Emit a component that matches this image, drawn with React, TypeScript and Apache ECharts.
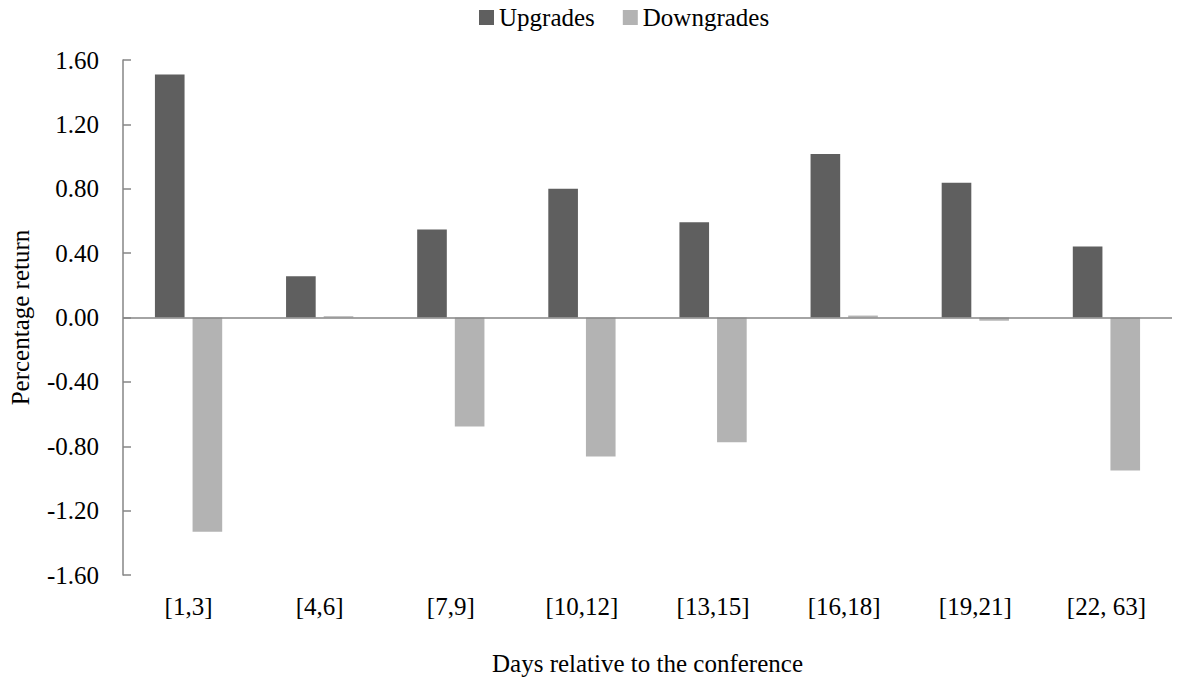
import React, { useEffect, useRef } from "react";
import * as echarts from "echarts";

const categories = ["[1,3]", "[4,6]", "[7,9]", "[10,12]", "[13,15]", "[16,18]", "[19,21]", "[22, 63]"];
const upgrades = [1.51, 0.257, 0.547, 0.8, 0.592, 1.016, 0.838, 0.441];
const downgrades = [-1.332, 0.008, -0.677, -0.863, -0.775, 0.012, -0.02, -0.95];
const seriesNames = ["Upgrades", "Downgrades"];

const FONT = "Liberation Serif";
const AXIS_COLOR = "#868686";

export default function App() {
  const ref = useRef<HTMLDivElement>(null);
  useEffect(() => {
    document.body.style.margin = "0";
    if (!ref.current) return;
    const chart = echarts.init(ref.current, undefined, { renderer: "svg" });
    chart.setOption({
      animation: false,
      backgroundColor: "#ffffff",
      textStyle: { fontFamily: FONT, color: "#000" },
      legend: {
        top: 0,
        left: 474,
        itemWidth: 15,
        itemHeight: 15,
        itemGap: 28,
        icon: "rect",
        textStyle: { fontFamily: FONT, fontSize: 25, color: "#000" },
        data: seriesNames,
      },
      grid: { left: 123, right: 16, top: 60, bottom: 105, containLabel: false },
      xAxis: {
        type: "category",
        data: categories,
        position: "bottom",
        axisLine: { show: false, onZero: false },
        axisTick: { show: false },
        axisLabel: { fontFamily: FONT, fontSize: 25, color: "#000", margin: 19 },
        name: "Days relative to the conference",
        nameLocation: "middle",
        nameGap: 76,
        nameTextStyle: { fontFamily: FONT, fontSize: 25, color: "#000" },
      },
      yAxis: {
        type: "value",
        min: -1.6,
        max: 1.6,
        interval: 0.4,
        axisLine: { show: true, lineStyle: { color: AXIS_COLOR, width: 1.5 } },
        axisTick: { show: true, inside: true, length: 8, lineStyle: { color: AXIS_COLOR, width: 1.5 } },
        splitLine: { show: false },
        axisLabel: {
          fontFamily: FONT,
          fontSize: 25,
          color: "#000",
          margin: 24,
          formatter: (v: number) => v.toFixed(2),
        },
        name: "Percentage return",
        nameLocation: "middle",
        nameGap: 90,
        nameTextStyle: { fontFamily: FONT, fontSize: 25, color: "#000" },
      },
      series: [
        {
          name: seriesNames[0],
          type: "bar",
          data: upgrades,
          barWidth: "22.6%",
          barGap: "27%",
          itemStyle: { color: "#5f5f5f" },
          markLine: {
            silent: true,
            symbol: "none",
            label: { show: false },
            lineStyle: { color: AXIS_COLOR, width: 1.5, type: "solid" },
            data: [{ yAxis: 0 }],
          },
        },
        {
          name: seriesNames[1],
          type: "bar",
          data: downgrades,
          barWidth: "22.6%",
          barGap: "27%",
          itemStyle: { color: "#b3b3b3" },
        },
      ],
    });
    return () => chart.dispose();
  }, []);
  return <div ref={ref} style={{ width: 1188, height: 681 }} />;
}
